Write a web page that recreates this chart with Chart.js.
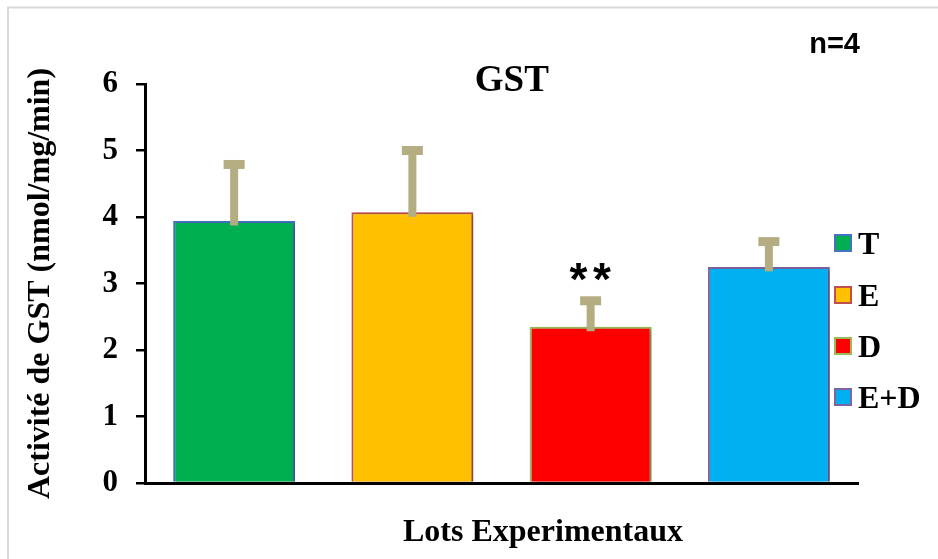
<!DOCTYPE html>
<html>
<head>
<meta charset="utf-8">
<script src="https://cdn.jsdelivr.net/npm/chart.js@4.4.0/dist/chart.umd.min.js"></script>
<style>
  html, body { margin: 0; padding: 0; background: #ffffff; }
  #wrap { width: 938px; height: 559px; position: relative; }
</style>
</head>
<body>
<div id="wrap"><canvas id="gst" width="938" height="559"></canvas></div>
<script>
// Experimental groups and GST activity (nmol/mg/min), mean and SEM, n=4
const categories = ['T', 'E', 'D', 'E+D'];
const meanValues = [3.94, 4.07, 2.35, 3.25];
const errorValues = [0.85, 0.93, 0.39, 0.38];
const significance = ['', '', '**', ''];
const yTickValues = [0, 1, 2, 3, 4, 5, 6];

const fillColors = ['#00B050', '#FFC000', '#FF0000', '#00B0F0'];
const edgeColors = ['#4472C4', '#C0504D', '#9BBB59', '#8064A2'];

const SERIF = "'Liberation Serif', 'Times New Roman', serif";
const SANS = "'Liberation Sans', Arial, sans-serif";
const ERR_COLOR = '#B5AD82';

function inkText(ctx, text, cx, cy, font, color) {
  ctx.save();
  ctx.font = font;
  ctx.fillStyle = color || '#000';
  ctx.textAlign = 'left';
  ctx.textBaseline = 'alphabetic';
  const m = ctx.measureText(text);
  const w = m.actualBoundingBoxLeft + m.actualBoundingBoxRight;
  const h = m.actualBoundingBoxAscent + m.actualBoundingBoxDescent;
  const x = cx - w / 2 + m.actualBoundingBoxLeft;
  const y = cy - h / 2 + m.actualBoundingBoxAscent;
  ctx.fillText(text, x, y);
  ctx.restore();
}

// frame lines, bar shadows, error bars, labels and legend
const decorations = {
  id: 'decorations',
  beforeDraw(chart) {
    const ctx = chart.ctx;
    ctx.save();
    ctx.fillStyle = '#ffffff';
    ctx.fillRect(0, 0, chart.width, chart.height);
    ctx.strokeStyle = '#D9D9D9';
    ctx.lineWidth = 2;
    ctx.beginPath();
    ctx.moveTo(8, chart.height);
    ctx.lineTo(8, 7.5);
    ctx.lineTo(chart.width, 7.5);
    ctx.stroke();
    ctx.restore();
  },
  beforeDatasetDraw(chart) {
    const ctx = chart.ctx;
    ctx.save();
    ctx.shadowColor = 'rgba(0,0,0,0.28)';
    ctx.shadowBlur = 4;
    ctx.shadowOffsetX = 3;
    ctx.shadowOffsetY = 1;
  },
  afterDatasetDraw(chart) {
    chart.ctx.restore();
  },
  afterDatasetsDraw(chart) {
    const ctx = chart.ctx;
    const yScale = chart.scales.y;
    const meta = chart.getDatasetMeta(0);
    meta.data.forEach((bar, i) => {
      const cx = bar.x;
      const yBase = yScale.getPixelForValue(meanValues[i]);
      const yTop = yScale.getPixelForValue(meanValues[i] + errorValues[i]);
      ctx.save();
      ctx.strokeStyle = ERR_COLOR;
      ctx.lineWidth = 8;
      ctx.lineCap = 'butt';
      ctx.beginPath();
      ctx.moveTo(cx, yBase + 4.5);
      ctx.lineTo(cx, yTop);
      ctx.stroke();
      ctx.lineWidth = 9;
      ctx.beginPath();
      ctx.moveTo(cx - 10.5, yTop);
      ctx.lineTo(cx + 10.5, yTop);
      ctx.stroke();
      ctx.restore();
      if (significance[i]) {
        const starY = yTop - 4.5 - 24;
        const marks = significance[i].split('');
        const gap = 23.5;
        marks.forEach((s, k) => {
          const sx = cx - 0.5 + (k - (marks.length - 1) / 2) * gap;
          inkText(ctx, s, sx, starY, "bold 46px " + SANS, '#000');
        });
      }
    });

    // chart title and sample size
    inkText(ctx, 'GST', 512.5, 78.5, "bold 37px " + SERIF, '#000');
    inkText(ctx, 'n=4', 835, 43, "bold 29px " + SANS, '#000');

    // x axis title
    ctx.save();
    ctx.font = "bold 32px " + SERIF;
    ctx.fillStyle = '#000';
    ctx.textAlign = 'center';
    ctx.textBaseline = 'alphabetic';
    ctx.fillText('Lots Experimentaux', 543, 541);
    ctx.restore();

    // legend
    const legendRows = [243, 295, 346, 397];
    categories.forEach((name, i) => {
      const y = legendRows[i];
      ctx.save();
      ctx.fillStyle = fillColors[i];
      ctx.fillRect(835, y - 8, 16, 16);
      ctx.strokeStyle = edgeColors[i];
      ctx.lineWidth = 2;
      ctx.strokeRect(835, y - 8, 16, 16);
      ctx.font = "bold 32px " + SERIF;
      ctx.fillStyle = '#000';
      ctx.textAlign = 'left';
      ctx.textBaseline = 'alphabetic';
      ctx.fillText(name, 858, y + 11);
      ctx.restore();
    });
  }
};

new Chart(document.getElementById('gst'), {
  type: 'bar',
  data: {
    labels: categories,
    datasets: [{
      data: meanValues,
      backgroundColor: fillColors,
      borderColor: edgeColors,
      borderWidth: 2,
      borderSkipped: 'bottom',
      barPercentage: 0.684,
      categoryPercentage: 1.0
    }]
  },
  options: {
    responsive: false,
    animation: false,
    events: [],
    layout: { padding: { top: 84, right: 80, bottom: 0, left: 0 } },
    plugins: {
      legend: { display: false },
      title: { display: false },
      tooltip: { enabled: false }
    },
    scales: {
      x: {
        grid: { display: false },
        border: { display: true, color: '#000', width: 3 },
        ticks: { display: false },
        afterFit(scale) { scale.height = 76; }
      },
      y: {
        min: 0,
        max: 6,
        afterBuildTicks(scale) { scale.ticks = yTickValues.map(v => ({ value: v })); },
        ticks: {
          color: '#000',
          padding: 18,
          font: { family: SERIF, size: 31, weight: 'bold' }
        },
        grid: {
          display: true,
          drawOnChartArea: false,
          drawTicks: true,
          tickLength: 9,
          color: '#000',
          lineWidth: 2.5
        },
        border: { display: true, color: '#000', width: 3 },
        title: {
          display: true,
          text: 'Activité de GST (nmol/mg/min)',
          color: '#000',
          font: { family: SERIF, size: 32, weight: 'bold' },
          padding: { top: 22, bottom: 0 }
        },
        afterFit(scale) { scale.width = 145; }
      }
    }
  },
  plugins: [decorations]
});
</script>
</body>
</html>
